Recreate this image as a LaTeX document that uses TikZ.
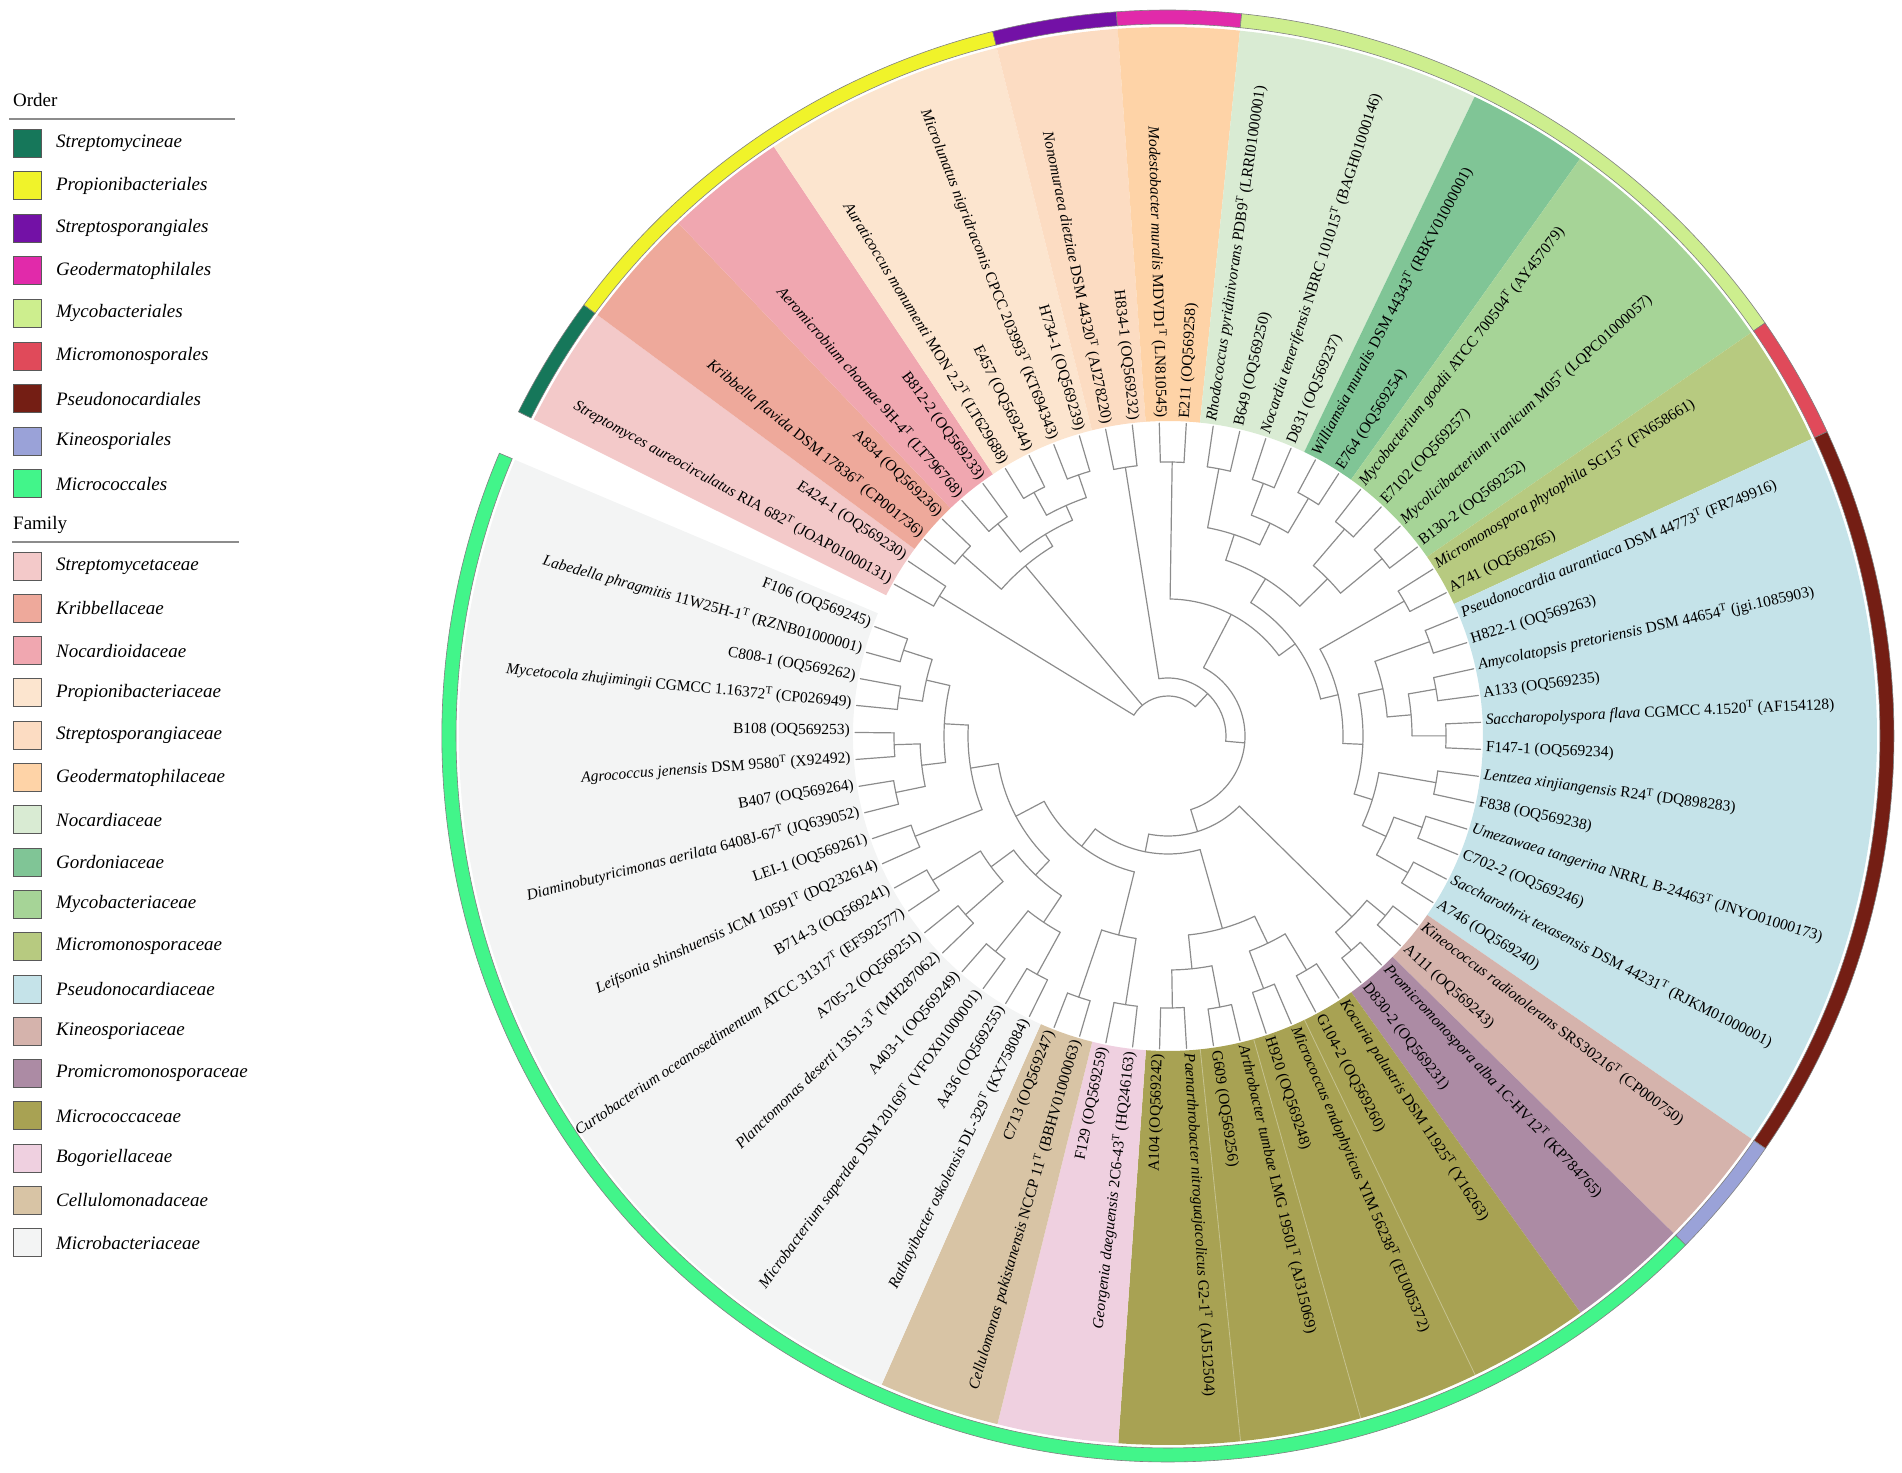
\documentclass[tikz,border=0pt]{standalone}
\usepackage{fontspec}
\setmainfont{Liberation Serif}
\usetikzlibrary{positioning}

% order colours
\definecolor{oStrm}{HTML}{16775A}
\definecolor{oProp}{HTML}{F0F32A}
\definecolor{oStsp}{HTML}{7311A6}
\definecolor{oGeod}{HTML}{E12AAA}
\definecolor{oMycb}{HTML}{CDEE8E}
\definecolor{oMicm}{HTML}{E04A5A}
\definecolor{oPsdn}{HTML}{741E14}
\definecolor{oKine}{HTML}{9AA2D8}
\definecolor{oMicc}{HTML}{42F58A}
% family colours
\definecolor{fStrm}{HTML}{F3C9C9}
\definecolor{fKrib}{HTML}{EEA99B}
\definecolor{fNcdd}{HTML}{F0A7B0}
\definecolor{fProp}{HTML}{FCE5CF}
\definecolor{fStsp}{HTML}{FCDCC2}
\definecolor{fGeod}{HTML}{FED3A7}
\definecolor{fNocd}{HTML}{D9EBD3}
\definecolor{fGord}{HTML}{80C596}
\definecolor{fMycb}{HTML}{A6D497}
\definecolor{fMicm}{HTML}{B7CA80}
\definecolor{fPsdn}{HTML}{C5E3E9}
\definecolor{fKine}{HTML}{D5B3AC}
\definecolor{fProm}{HTML}{AC8BA4}
\definecolor{fMicc}{HTML}{A8A253}
\definecolor{fBogo}{HTML}{EFD0E0}
\definecolor{fCell}{HTML}{D8C4A5}
\definecolor{fMicb}{HTML}{F3F4F4}

\tikzset{
  branch/.style={draw=black!45, line width=1.2pt, line cap=round},
  leaf/.style={inner sep=0pt, font=\fontsize{15.5}{18}\selectfont},
  seam/.style={draw=white, draw opacity=0.35, line width=0.8pt},
  legbox/.style={draw=black!65, line width=0.8pt, minimum size=28pt, inner sep=0pt},
  legtext/.style={anchor=west, inner sep=0pt, font=\fontsize{19}{22}\selectfont\itshape},
  legtitle/.style={anchor=base west, inner sep=0pt, font=\fontsize{19}{22}\selectfont},
  legrule/.style={draw=black!45, line width=1.6pt}
}

\def\leafr{313pt}
\def\labr{318pt}
\def\secin{315pt}
\def\secout{709pt}
\newcommand{\typstr}{\textsuperscript{T}}

% radial tip: leaf index, parent radius
\newcommand{\tipline}[2]{%
  \pgfmathsetmacro{\tpA}{151-4.95*#1}%
  \draw[branch] (\tpA:#2pt) -- (\tpA:\leafr);%
}
% inner node: radius, first child, last child, parent radius
\newcommand{\clade}[4]{%
  \pgfmathsetmacro{\brA}{151-4.95*#2}%
  \pgfmathsetmacro{\brB}{151-4.95*#3}%
  \pgfmathsetmacro{\brM}{(\brA+\brB)/2}%
  \draw[branch] (\brA:#1pt) arc[start angle=\brA, end angle=\brB, radius=#1pt];%
  \draw[branch] (\brM:#4pt) -- (\brM:#1pt);%
}
% two sister leaves: first leaf, radius, parent radius
\newcommand{\twin}[3]{%
  \pgfmathtruncatemacro{\tb}{#1+1}%
  \clade{#2}{#1}{\tb}{#3}%
  \tipline{#1}{#2}\tipline{\tb}{#2}%
}
\newcommand{\rootarc}[3]{%
  \pgfmathsetmacro{\brA}{151-4.95*#2}%
  \pgfmathsetmacro{\brB}{151-4.95*#3}%
  \draw[branch] (\brA:#1pt) arc[start angle=\brA, end angle=\brB, radius=#1pt];%
}
% family band: first leaf, last leaf, colour
\newcommand{\famsector}[3]{%
  \pgfmathsetmacro{\scA}{151-4.95*(#1-0.5)}%
  \pgfmathsetmacro{\scB}{151-4.95*(#2+0.5)}%
  \fill[#3] (\scA:\secin) arc[start angle=\scA, end angle=\scB, radius=\secin]
    -- (\scB:\secout) arc[start angle=\scB, end angle=\scA, radius=\secout] -- cycle;%
}
% faint seam inside a band: position between two leaves
\newcommand{\bandseam}[1]{%
  \pgfmathsetmacro{\scA}{151-4.95*#1}%
  \draw[seam] (\scA:\secin) -- (\scA:\secout);%
}
% order ring: first leaf, last leaf, colour
\newcommand{\ordring}[3]{%
  \pgfmathsetmacro{\scA}{151-4.95*(#1-0.5)}%
  \pgfmathsetmacro{\scB}{151-4.95*(#2+0.5)}%
  \filldraw[fill=#3, draw=black!50, line width=0.6pt] (\scA:712pt) arc[start angle=\scA, end angle=\scB, radius=712pt]
    -- (\scB:726pt) arc[start angle=\scB, end angle=\scA, radius=726pt] -- cycle;%
}
% taxon label: leaf index, text
\newcommand{\taxon}[2]{%
  \pgfmathsetmacro{\lbA}{151-4.95*#1}%
  \pgfmathtruncatemacro{\lbF}{cos(\lbA)<0}%
  \ifnum\lbF=1
    \pgfmathsetmacro{\lbR}{\lbA+180}%
    \node[leaf, anchor=mid east, rotate=\lbR] (leaf#1) at (\lbA:\labr) {#2};%
  \else
    \node[leaf, anchor=mid west, rotate=\lbA] (leaf#1) at (\lbA:\labr) {#2};%
  \fi
}
% legend entry: name, y, colour, text
\newcommand{\legitem}[4]{%
  \node[legbox, fill=#3] (#1) at (27.5,#2) {};
  \node[legtext, right=14pt of #1] (#1txt) {#4};
}

\begin{document}
\begin{tikzpicture}[x=1pt, y=1pt]
  \useasboundingbox (0,0) rectangle (1902,1472);

  \begin{scope}[shift={(1168,736)}]
    % family bands
    \famsector{0}{1}{fStrm}
    \famsector{2}{3}{fKrib}
    \famsector{4}{5}{fNcdd}
    \famsector{6}{9}{fProp}
    \famsector{10}{11}{fStsp}
    \famsector{12}{13}{fGeod}
    \famsector{14}{17}{fNocd}
    \famsector{18}{19}{fGord}
    \famsector{20}{23}{fMycb}
    \famsector{24}{25}{fMicm}
    \famsector{26}{37}{fPsdn}
    \famsector{38}{39}{fKine}
    \famsector{40}{41}{fProm}
    \famsector{42}{49}{fMicc}
    \famsector{50}{51}{fBogo}
    \famsector{52}{53}{fCell}
    \famsector{54}{71}{fMicb}
    % seams in the Micrococcaceae band
    \bandseam{43.5}
    \bandseam{45.5}
    \bandseam{47.5}

    % order ring
    \ordring{0}{1}{oStrm}
    \ordring{2}{9}{oProp}
    \ordring{10}{11}{oStsp}
    \ordring{12}{13}{oGeod}
    \ordring{14}{23}{oMycb}
    \ordring{24}{25}{oMicm}
    \ordring{26}{37}{oPsdn}
    \ordring{38}{39}{oKine}
    \ordring{40}{71}{oMicc}

    % tree, root is a trifurcation
    \rootarc{40}{0.5}{21.0234}
    \twin{0}{268}{40}
    % Propionibacteriales
    \clade{222}{2.5}{6}{40}
    \twin{2}{274}{222}
    \clade{236}{4.5}{7.5}{222}
    \twin{4}{272}{236}
    \clade{252}{6.5}{8.5}{236}
    \twin{6}{278}{252}
    \twin{8}{276}{252}
    % rest of the tree
    \clade{58}{10.5}{31.546875}{40}
    \twin{10}{272}{58}
    \clade{77}{17.875}{45.21875}{58}
    \clade{137}{12.5}{23.25}{77}
    \twin{12}{274}{137}
    \clade{157}{18.75}{27.75}{137}
    % Mycobacteriales
    \clade{185}{16}{21.5}{157}
    \clade{212}{14.5}{17.5}{185}
    \twin{14}{272}{212}
    \clade{236}{16.5}{18.5}{212}
    \twin{16}{270}{236}
    \twin{18}{276}{236}
    \clade{224}{20.5}{22.5}{185}
    \twin{20}{272}{224}
    \twin{22}{278}{224}
    % Micromonosporales and Pseudonocardiales
    \clade{175}{24.5}{31}{157}
    \twin{24}{272}{175}
    \clade{195}{28}{34}{175}
    \clade{220}{26.5}{29.5}{195}
    \twin{26}{278}{220}
    \clade{244}{28.5}{30.5}{220}
    \twin{28}{272}{244}
    \twin{30}{278}{244}
    \clade{214}{32.5}{35.5}{195}
    \twin{32}{272}{214}
    \clade{240}{34.5}{36.5}{214}
    \twin{34}{270}{240}
    \twin{36}{276}{240}
    % Kineosporiales and Micrococcales
    \clade{100}{39.5}{50.9375}{77}
    \clade{258}{38.5}{40.5}{100}
    \twin{38}{282}{258}
    \twin{40}{282}{258}
    \clade{118}{45.5}{56.375}{100}
    \clade{200}{43.5}{47.5}{118}
    \clade{230}{42.5}{44.5}{200}
    \twin{42}{272}{230}
    \twin{44}{270}{230}
    \clade{234}{46.5}{48.5}{200}
    \twin{46}{276}{234}
    \twin{48}{272}{234}
    \clade{140}{51.5}{61.25}{118}
    \clade{205}{50.5}{52.5}{140}
    \twin{50}{272}{205}
    \twin{52}{276}{205}
    % Microbacteriaceae
    \clade{172}{57.5}{65}{140}
    \clade{192}{55.5}{59.5}{172}
    \clade{224}{54.5}{56.5}{192}
    \twin{54}{272}{224}
    \twin{56}{276}{224}
    \clade{220}{58.5}{60.5}{192}
    \twin{58}{270}{220}
    \twin{60}{276}{220}
    \clade{200}{62.5}{67.5}{172}
    \twin{62}{272}{200}
    \clade{224}{65.5}{69.5}{200}
    \clade{248}{64.5}{66.5}{224}
    \twin{64}{278}{248}
    \twin{66}{274}{248}
    \clade{248}{68.5}{70.5}{224}
    \twin{68}{272}{248}
    \twin{70}{278}{248}

    % labels, clockwise from the gap
    \taxon{0}{\textit{Streptomyces aureocirculatus} RIA 682\typstr{} (JOAP01000131)}
    \taxon{1}{E424-1 (OQ569230)}
    \taxon{2}{\textit{Kribbella flavida} DSM 17836\typstr{} (CP001736)}
    \taxon{3}{A834 (OQ569236)}
    \taxon{4}{\textit{Aeromicrobium choanae} 9H-4\typstr{} (LT796768)}
    \taxon{5}{B812-2 (OQ569233)}
    \taxon{6}{\textit{Auraticoccus monumenti} MON 2.2\typstr{} (LT629688)}
    \taxon{7}{E457 (OQ569244)}
    \taxon{8}{\textit{Microlunatus nigridraconis} CPCC 203993\typstr{} (KT694343)}
    \taxon{9}{H734-1 (OQ569239)}
    \taxon{10}{\textit{Nonomuraea dietziae} DSM 44320\typstr{} (AJ278220)}
    \taxon{11}{H834-1 (OQ569232)}
    \taxon{12}{\textit{Modestobacter muralis} MDVD1\typstr{} (LN810545)}
    \taxon{13}{E211 (OQ569258)}
    \taxon{14}{\textit{Rhodococcus pyridinivorans} PDB9\typstr{} (LRRI01000001)}
    \taxon{15}{B649 (OQ569250)}
    \taxon{16}{\textit{Nocardia tenerifensis} NBRC 101015\typstr{} (BAGH01000146)}
    \taxon{17}{D831 (OQ569237)}
    \taxon{18}{\textit{Williamsia muralis} DSM 44343\typstr{} (RBKV01000001)}
    \taxon{19}{E764 (OQ569254)}
    \taxon{20}{\textit{Mycobacterium goodii} ATCC 700504\typstr{} (AY457079)}
    \taxon{21}{E7102 (OQ569257)}
    \taxon{22}{\textit{Mycolicibacterium iranicum} M05\typstr{} (LQPC01000057)}
    \taxon{23}{B130-2 (OQ569252)}
    \taxon{24}{\textit{Micromonospora phytophila} SG15\typstr{} (FN658661)}
    \taxon{25}{A741 (OQ569265)}
    \taxon{26}{\textit{Pseudonocardia aurantiaca} DSM 44773\typstr{} (FR749916)}
    \taxon{27}{H822-1 (OQ569263)}
    \taxon{28}{\textit{Amycolatopsis pretoriensis} DSM 44654\typstr{} (jgi.1085903)}
    \taxon{29}{A133 (OQ569235)}
    \taxon{30}{\textit{Saccharopolyspora flava} CGMCC 4.1520\typstr{} (AF154128)}
    \taxon{31}{F147-1 (OQ569234)}
    \taxon{32}{\textit{Lentzea xinjiangensis} R24\typstr{} (DQ898283)}
    \taxon{33}{F838 (OQ569238)}
    \taxon{34}{\textit{Umezawaea tangerina} NRRL B-24463\typstr{} (JNYO01000173)}
    \taxon{35}{C702-2 (OQ569246)}
    \taxon{36}{\textit{Saccharothrix texasensis} DSM 44231\typstr{} (RJKM01000001)}
    \taxon{37}{A746 (OQ569240)}
    \taxon{38}{\textit{Kineococcus radiotolerans} SRS30216\typstr{} (CP000750)}
    \taxon{39}{A111 (OQ569243)}
    \taxon{40}{\textit{Promicromonospora alba} 1C-HV12\typstr{} (KP784765)}
    \taxon{41}{D830-2 (OQ569231)}
    \taxon{42}{\textit{Kocuria palustris} DSM 11925\typstr{} (Y16263)}
    \taxon{43}{G104-2 (OQ569260)}
    \taxon{44}{\textit{Micrococcus endophyticus} YIM 56238\typstr{} (EU005372)}
    \taxon{45}{H920 (OQ569248)}
    \taxon{46}{\textit{Arthrobacter tumbae} LMG 19501\typstr{} (AJ315069)}
    \taxon{47}{G609 (OQ569256)}
    \taxon{48}{\textit{Paenarthrobacter nitroguajacolicus} G2-1\typstr{} (AJ512504)}
    \taxon{49}{A104 (OQ569242)}
    \taxon{50}{\textit{Georgenia daeguensis} 2C6-43\typstr{} (HQ246163)}
    \taxon{51}{F129 (OQ569259)}
    \taxon{52}{\textit{Cellulomonas pakistanensis} NCCP 11\typstr{} (BBHV01000063)}
    \taxon{53}{C713 (OQ569247)}
    \taxon{54}{\textit{Rathayibacter oskolensis} DL-329\typstr{} (KX758084)}
    \taxon{55}{A436 (OQ569255)}
    \taxon{56}{\textit{Microbacterium saperdae} DSM 20169\typstr{} (VFOX01000001)}
    \taxon{57}{A403-1 (OQ569249)}
    \taxon{58}{\textit{Planctomonas deserti} 13S1-3\typstr{} (MH287062)}
    \taxon{59}{A705-2 (OQ569251)}
    \taxon{60}{\textit{Curtobacterium oceanosedimentum} ATCC 31317\typstr{} (EF592577)}
    \taxon{61}{B714-3 (OQ569241)}
    \taxon{62}{\textit{Leifsonia shinshuensis} JCM 10591\typstr{} (DQ232614)}
    \taxon{63}{LEI-1 (OQ569261)}
    \taxon{64}{\textit{Diaminobutyricimonas aerilata} 6408J-67\typstr{} (JQ639052)}
    \taxon{65}{B407 (OQ569264)}
    \taxon{66}{\textit{Agrococcus jenensis} DSM 9580\typstr{} (X92492)}
    \taxon{67}{B108 (OQ569253)}
    \taxon{68}{\textit{Mycetocola zhujimingii} CGMCC 1.16372\typstr{} (CP026949)}
    \taxon{69}{C808-1 (OQ569262)}
    \taxon{70}{\textit{Labedella phragmitis} 11W25H-1\typstr{} (RZNB01000001)}
    \taxon{71}{F106 (OQ569245)}
  \end{scope}

  % legend: order
  \node[legtitle] (ordtitle) at (13,1365) {Order};
  \draw[legrule] (9,1353) -- (235,1353);
  \legitem{ord1}{1329.0}{oStrm}{Streptomycineae}
  \legitem{ord2}{1286.4}{oProp}{Propionibacteriales}
  \legitem{ord3}{1243.8}{oStsp}{Streptosporangiales}
  \legitem{ord4}{1201.2}{oGeod}{Geodermatophilales}
  \legitem{ord5}{1158.6}{oMycb}{Mycobacteriales}
  \legitem{ord6}{1116.0}{oMicm}{Micromonosporales}
  \legitem{ord7}{1073.4}{oPsdn}{Pseudonocardiales}
  \legitem{ord8}{1030.8}{oKine}{Kineosporiales}
  \legitem{ord9}{988.2}{oMicc}{Micrococcales}

  % legend: family
  \node[legtitle] (famtitle) at (13,942) {Family};
  \draw[legrule] (12,930) -- (239,930);
  \legitem{fam1}{906.0}{fStrm}{Streptomycetaceae}
  \legitem{fam2}{863.7}{fKrib}{Kribbellaceae}
  \legitem{fam3}{821.4}{fNcdd}{Nocardioidaceae}
  \legitem{fam4}{779.1}{fProp}{Propionibacteriaceae}
  \legitem{fam5}{736.8}{fStsp}{Streptosporangiaceae}
  \legitem{fam6}{694.5}{fGeod}{Geodermatophilaceae}
  \legitem{fam7}{652.2}{fNocd}{Nocardiaceae}
  \legitem{fam8}{609.9}{fGord}{Gordoniaceae}
  \legitem{fam9}{567.6}{fMycb}{Mycobacteriaceae}
  \legitem{fam10}{525.3}{fMicm}{Micromonosporaceae}
  \legitem{fam11}{483.0}{fPsdn}{Pseudonocardiaceae}
  \legitem{fam12}{440.7}{fKine}{Kineosporiaceae}
  \legitem{fam13}{398.4}{fProm}{Promicromonosporaceae}
  \legitem{fam14}{356.1}{fMicc}{Micrococcaceae}
  \legitem{fam15}{313.8}{fBogo}{Bogoriellaceae}
  \legitem{fam16}{271.5}{fCell}{Cellulomonadaceae}
  \legitem{fam17}{229.2}{fMicb}{Microbacteriaceae}
\end{tikzpicture}
\end{document}
